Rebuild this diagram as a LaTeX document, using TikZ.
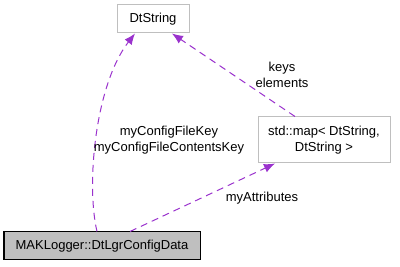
\documentclass[tikz,border=0pt]{standalone}
\usepackage{fontspec}
\setmainfont{Liberation Sans}
\usetikzlibrary{arrows.meta}

\definecolor{edgepurple}{HTML}{9A32CD}
\definecolor{boxgray}{HTML}{BFBFBF}
\definecolor{linegray}{HTML}{BFBFBF}

\begin{document}
\begin{tikzpicture}[x=1pt, y=-1pt, every node/.style={font=\fontsize{13}{16}\selectfont},
	>={Latex[length=11pt, width=9pt]},
	classbox/.style={draw=linegray, fill=white, inner sep=0pt, align=center, line width=1pt},
	member/.style={->, dashed, dash pattern=on 7pt off 5pt, edgepurple, line width=1pt}]
	\useasboundingbox (0,0) rectangle (400,267);
	\node[classbox, minimum width=72pt, minimum height=28pt] (dts) at (153,19) {DtString};
	\node[classbox, minimum width=132pt, minimum height=46pt] (map) at (324,140) {std::map\textless{} DtString,\\ DtString \textgreater};
	\node[classbox, draw=black, fill=boxgray, minimum width=196pt, minimum height=28pt] (cfg) at (102,246) {MAKLogger::DtLgrConfigData};
	\draw[member] (cfg.north -| 97,0) .. controls (86,185) and (95,85) .. (dts.south -| 135,0);
	\draw[member] (map.north -| 295,0) -- (dts.south -| 172,0);
	\draw[member] (cfg.north -| 130,0) -- (map.south -| 275,0);
	\node[align=center] (l1) at (169,140) {myConfigFileKey\\ myConfigFileContentsKey};
	\node[align=center] (l2) at (282,75) {keys\\ elements};
	\node (l3) at (262,198) {myAttributes};
\end{tikzpicture}
\end{document}
